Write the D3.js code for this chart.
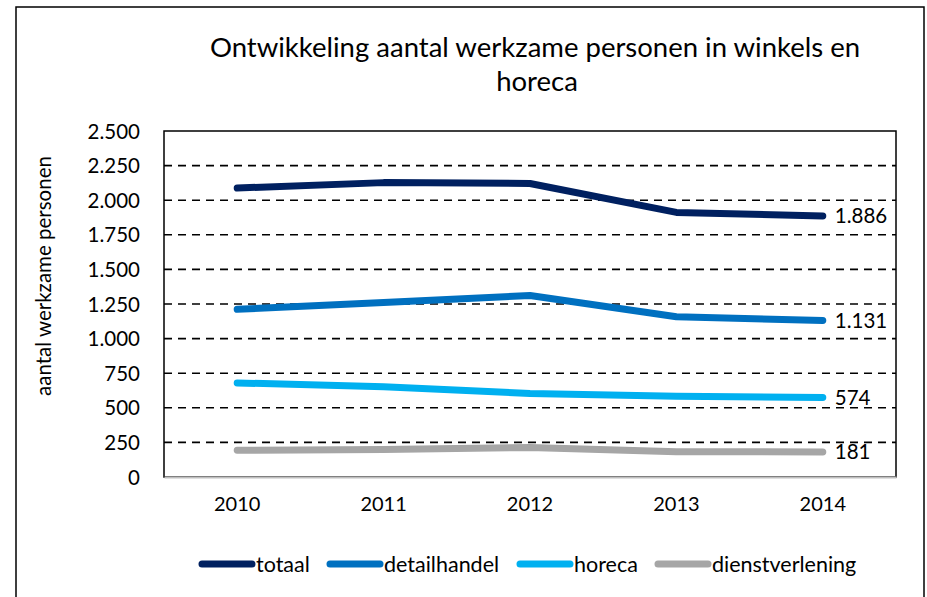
<!DOCTYPE html>
<html>
<head>
<meta charset="utf-8">
<script src="https://cdn.jsdelivr.net/npm/d3@7"></script>
<style>
  body { margin: 0; background: #fff; }
  svg text { font-family: Lato, "Open Sans", sans-serif; fill: #000; }
</style>
</head>
<body>
<svg id="chart" width="927" height="597"></svg>
<script>
// data
const years = ["2010", "2011", "2012", "2013", "2014"];
const seriesNames = ["totaal", "detailhandel", "horeca", "dienstverlening"];
const totaal = [2088, 2127, 2121, 1912, 1886];
const detailhandel = [1212, 1260, 1312, 1158, 1131];
const horeca = [680, 652, 603, 583, 574];
const dienstverlening = [193, 199, 213, 183, 181];
const colors = ["#002060", "#0070c0", "#00b0f0", "#a6a6a6"];
const yTicks = [0, 250, 500, 750, 1000, 1250, 1500, 1750, 2000, 2250, 2500];

const series = [totaal, detailhandel, horeca, dienstverlening].map((vals, i) => ({
    name: seriesNames[i], color: colors[i], values: vals
}));

const svg = d3.select("#chart");
const plot = {left: 164, right: 896, top: 131, bottom: 477};

// nl number format: 2.500
const nl = d3.formatLocale({decimal: ",", thousands: ".", grouping: [3], currency: ["€", ""]});
const fmt = nl.format(",d");

const x = d3.scaleBand().domain(years).range([plot.left, plot.right]);
const xc = d => x(d) + x.bandwidth() / 2;
const y = d3.scaleLinear().domain([0, 2500]).range([plot.bottom, plot.top]);

// outer chart border
svg.append("rect")
    .attr("x", 16).attr("y", 7)
    .attr("width", 908).attr("height", 600)
    .attr("fill", "none").attr("stroke", "#000").attr("stroke-width", 1.5);

// title
const title = svg.append("text")
    .attr("text-anchor", "middle")
    .style("font-size", "27.5px");
title.append("tspan").attr("x", 535).attr("y", 57)
    .text("Ontwikkeling aantal werkzame personen in winkels en");
title.append("tspan").attr("x", 537).attr("y", 91).text("horeca");

// grid lines (dashed)
svg.append("g").selectAll("line")
    .data(yTicks.filter(t => t > 0 && t < 2500))
    .join("line")
    .attr("x1", plot.left).attr("x2", plot.right)
    .attr("y1", d => y(d)).attr("y2", d => y(d))
    .attr("stroke", "#000").attr("stroke-width", 1.6)
    .attr("stroke-dasharray", "8,6");

// plot area border
svg.append("rect")
    .attr("x", plot.left).attr("y", plot.top)
    .attr("width", plot.right - plot.left).attr("height", plot.bottom - plot.top)
    .attr("fill", "none").attr("stroke", "#000").attr("stroke-width", 1.5);

// y axis
const yAxis = svg.append("g")
    .attr("transform", `translate(${plot.left},0)`)
    .call(d3.axisLeft(y).tickValues(yTicks).tickFormat(fmt).tickSize(0).tickPadding(24));
yAxis.select(".domain").remove();
yAxis.selectAll("text").style("font-size", "20.5px").attr("dy", "0.35em");

// x axis
const xAxis = svg.append("g")
    .attr("transform", `translate(0,${plot.bottom})`)
    .call(d3.axisBottom(x).tickSize(0).tickPadding(20));
xAxis.select(".domain").attr("stroke", "#bfbfbf").attr("stroke-width", 2);
xAxis.selectAll("text").style("font-size", "20px");

// y axis title
svg.append("text")
    .attr("transform", "translate(51,276) rotate(-90)")
    .attr("text-anchor", "middle")
    .style("font-size", "20.5px")
    .text("aantal werkzame personen");

// lines
const line = d3.line().x((d, i) => xc(years[i])).y(d => y(d));
svg.append("g").selectAll("path")
    .data(series)
    .join("path")
    .attr("d", d => line(d.values))
    .attr("fill", "none")
    .attr("stroke", d => d.color)
    .attr("stroke-width", 7)
    .attr("stroke-linecap", "round")
    .attr("stroke-linejoin", "round");

// end labels
svg.append("g").selectAll("text")
    .data(series)
    .join("text")
    .attr("x", xc(years[years.length - 1]) + 12)
    .attr("y", d => y(d.values[d.values.length - 1]))
    .attr("dy", "0.35em")
    .style("font-size", "20.5px")
    .text(d => fmt(d.values[d.values.length - 1]));

// legend
const legendX = [199, 327, 517, 655];
const legend = svg.append("g").selectAll("g")
    .data(series)
    .join("g")
    .attr("transform", (d, i) => `translate(${legendX[i]},564)`);
legend.append("line")
    .attr("x1", 3).attr("x2", 53)
    .attr("stroke", d => d.color).attr("stroke-width", 7)
    .attr("stroke-linecap", "round");
legend.append("text")
    .attr("x", 57).attr("dy", "0.35em")
    .style("font-size", "21.5px")
    .text(d => d.name);
</script>
</body>
</html>
